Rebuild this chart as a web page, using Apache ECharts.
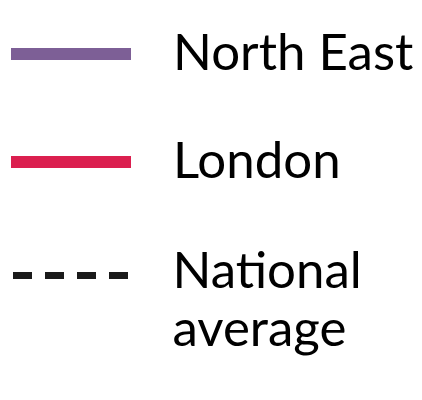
<!DOCTYPE html>
<html><head><meta charset="utf-8">
<script src="https://cdn.jsdelivr.net/npm/echarts@6/dist/echarts.min.js"></script>
<style>html,body{margin:0;padding:0;background:#fff}#c{width:422px;height:400px}</style>
</head><body><div id="c"></div>
<script>
var seriesNames = ['North East', 'London', 'National average'];
var seriesColors = ['#7d5f96', '#db1f4f', '#1a1a1a'];
var northEast = [];
var london = [];
var nationalAverage = [];
var seriesData = [northEast, london, nationalAverage];

var chart = echarts.init(document.getElementById('c'), null, {renderer: 'canvas'});
var font = 'Lato';
var fs = 51;
var lh = 58;
function legendFor(i, top, opts) {
  return Object.assign({
    data: [seriesNames[i]],
    left: 5, top: top, padding: 0,
    orient: 'vertical',
    itemWidth: 120, itemHeight: 12,
    selectedMode: false,
    itemStyle: {opacity: 0},
    textStyle: {fontFamily: font, fontSize: fs, lineHeight: lh, color: '#000', padding: [0, 0, 0, 37]}
  }, opts);
}
chart.setOption({
  animation: false,
  grid: {show: false, left: 0, right: 0, top: 0, bottom: 0},
  xAxis: {type: 'category', show: false, data: []},
  yAxis: {type: 'value', show: false},
  legend: [
    legendFor(0, 25, {lineStyle: {width: 12, color: seriesColors[0]}}),
    legendFor(1, 133, {lineStyle: {width: 12, color: seriesColors[1]}}),
    legendFor(2, 192, {
      left: 9.5,
      lineStyle: {width: 7, color: seriesColors[2], type: [19, 13]},
      formatter: function () { return '{s| }\n{a|National}\n{a|average}'; },
      textStyle: {
        fontFamily: font, fontSize: fs, lineHeight: lh, color: '#000', padding: [0, 0, 0, 34.5],
        rich: {
          s: {fontFamily: font, fontSize: fs, lineHeight: 50, color: '#000'},
          a: {fontFamily: font, fontSize: fs, lineHeight: lh, color: '#000'}
        }
      }
    })
  ],
  series: seriesNames.map(function (n, i) {
    return {
      name: n, type: 'line', symbol: 'none', showSymbol: false, data: seriesData[i],
      lineStyle: {color: seriesColors[i], width: i === 2 ? 7 : 12, type: i === 2 ? [19, 13] : 'solid'},
      itemStyle: {color: seriesColors[i]}
    };
  })
});
</script></body></html>
